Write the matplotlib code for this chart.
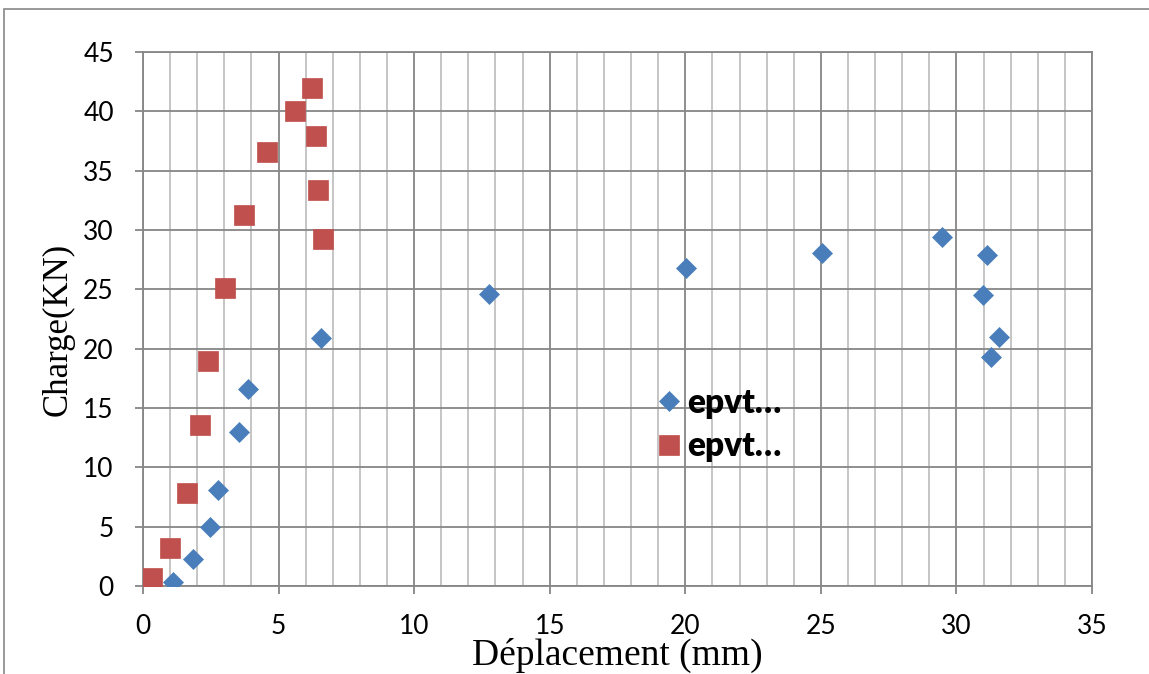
import matplotlib
matplotlib.use("Agg")
import matplotlib.pyplot as plt
from matplotlib.patches import Rectangle
from matplotlib.ticker import MultipleLocator

# data
blue_x = [1.11, 1.84, 2.47, 2.77, 3.54, 3.87, 6.57, 12.77, 20.04, 25.05, 29.47, 31.13, 30.98, 31.57, 31.28]
blue_y = [0.3, 2.3, 5.0, 8.1, 13.0, 16.6, 20.9, 24.6, 26.8, 28.1, 29.4, 27.9, 24.5, 21.0, 19.3]
red_x = [0.33, 1.0, 1.62, 2.1, 2.4, 3.02, 3.73, 4.57, 5.6, 6.23, 6.38, 6.46, 6.64]
red_y = [0.7, 3.2, 7.8, 13.6, 19.0, 25.1, 31.3, 36.6, 40.0, 42.0, 37.9, 33.4, 29.2]
series_names = ["epvt…", "epvt…"]
x_label = "Déplacement (mm)"
y_label = "Charge(KN)"

fig = plt.figure(figsize=(11.49, 6.74), dpi=100)
ax = fig.add_axes([143/1149, 1-586/674, (1092-143)/1149, (586-52)/674])

major_c = "#868686"
minor_c = "#c0c0c0"

ax.set_xlim(0, 35)
ax.set_ylim(0, 45)
ax.xaxis.set_major_locator(MultipleLocator(5))
ax.xaxis.set_minor_locator(MultipleLocator(1))
ax.yaxis.set_major_locator(MultipleLocator(5))
ax.grid(which="minor", axis="x", color=minor_c, lw=1.3, zorder=0)
ax.grid(which="major", axis="both", color=major_c, lw=1.3, zorder=0)
ax.set_axisbelow(True)
for s in ax.spines.values():
    s.set_color(major_c)
    s.set_linewidth(1.3)
ax.tick_params(which="major", length=6, color=major_c, width=1.3, labelsize=19)
ax.tick_params(axis="x", pad=14)
ax.tick_params(axis="y", pad=15)
ax.tick_params(which="minor", length=0)
for lab in ax.get_xticklabels() + ax.get_yticklabels():
    lab.set_fontfamily("Lato")

ax.plot(blue_x, blue_y, ls="none", marker="D", ms=10.5, color="#4a7ebb", mec="#4a7ebb", mew=0.5,
        label=series_names[0], zorder=3)
ax.plot(red_x, red_y, ls="none", marker="s", ms=14, color="#c0504d", mec="#c0504d", mew=0.5,
        label=series_names[1], zorder=3)

ax.set_xlabel(x_label, fontsize=27, family="Liberation Serif")
ax.xaxis.set_label_coords(0.5, -0.098)
ax.set_ylabel(y_label, fontsize=25, family="Liberation Serif")
ax.yaxis.set_label_coords(-0.072, 0.481)

leg = ax.legend(loc="upper left", bbox_to_anchor=(0.523, 0.398), frameon=False,
                prop={"family": "Lato", "weight": "heavy", "size": 24},
                handletextpad=0.05, labelspacing=0.35, borderaxespad=0, handlelength=1.0)

fig.patches.append(Rectangle((4/1149, -0.1), 1.2, 1 - 9/674 + 0.1, transform=fig.transFigure,
                             fill=False, ec="#888888", lw=1.2))

fig.savefig("out.png", dpi=100)
